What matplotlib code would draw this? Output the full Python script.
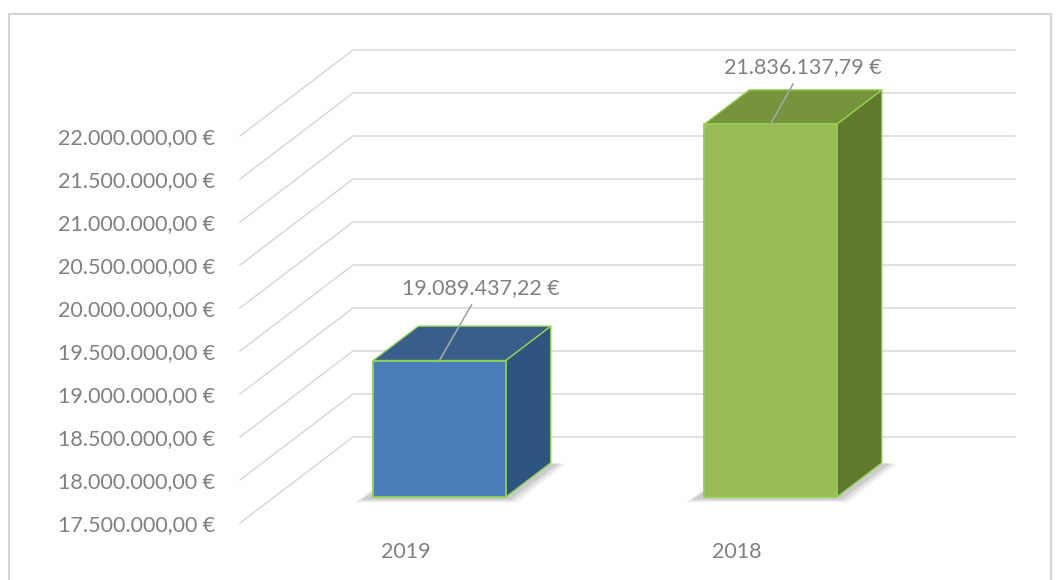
import matplotlib
matplotlib.use("Agg")
import matplotlib.pyplot as plt
from matplotlib.patches import Polygon, Rectangle
from matplotlib.ticker import FuncFormatter

# ---- data ----
categories = ["2019", "2018"]
values = [19089437.22, 21836137.79]
y_ticks = [17500000, 18000000, 18500000, 19000000, 19500000,
           20000000, 20500000, 21000000, 21500000, 22000000]
front_colors = ["#4a7ebb", "#9bbb59"]
side_colors = ["#2e5482", "#60792f"]
top_colors = ["#395e8c", "#77933c"]

# ---- layout (pixels of a 1059x580 canvas) ----
W, H = 1059, 580
PX_PER_CAT = 331.0          # pixels per category unit
PX_PER_VAL = 86.0 / 1e6     # pixels per euro
DEPTH_X = 113.0 / PX_PER_CAT  # oblique depth offset in category units
DEPTH_Y = 1.0e6               # oblique depth offset in value units
BAR_W = 0.4
BAR_FRONT = 0.3   # fraction of depth where bar front sits
BAR_DEPTH = 0.4
base = y_ticks[0]
FS = 15.5

plt.rcParams['font.family'] = ['Lato', 'DejaVu Sans']
TXT = "#808080"
GRID = "#d9d9d9"
EDGE = "#92d050"

fig = plt.figure(figsize=(W / 100, H / 100), dpi=100)
fig.patch.set_facecolor("white")

# chart border
fig.add_artist(Rectangle((9 / W, -0.05), (1051 - 9) / W, 1.05 - 14 / H,
                         transform=fig.transFigure, fill=False,
                         edgecolor="#d4d4d4", lw=1.5))

ax_l, ax_b, ax_w, ax_h = 240, 57, 775, 580 - 57 - 14
ax = fig.add_axes([ax_l / W, ax_b / H, ax_w / W, ax_h / H])
ax.set_xlim(-0.5, -0.5 + ax_w / PX_PER_CAT)
ax.set_ylim(base, base + ax_h / PX_PER_VAL)
for s in ax.spines.values():
    s.set_visible(False)
ax.patch.set_alpha(0)

def euro(v, pos=None):
    s = f"{v:,.2f}".replace(",", "X").replace(".", ",").replace("X", ".")
    return s + " €"

ax.set_yticks(y_ticks)
ax.yaxis.set_major_formatter(FuncFormatter(euro))
ax.set_xticks(range(len(categories)))
ax.set_xticklabels(categories)
ax.tick_params(axis="y", length=0, pad=18, labelsize=FS, labelcolor=TXT)
ax.tick_params(axis="x", length=0, pad=14, labelsize=FS, labelcolor=TXT)

# gridlines: diagonal on the left floor/side, horizontal on the back wall
x0 = -0.5
x1 = len(categories) - 0.5
for v in y_ticks:
    ax.plot([x0, x0 + DEPTH_X, x1 + DEPTH_X], [v, v + DEPTH_Y, v + DEPTH_Y],
            color=GRID, lw=1.1, clip_on=False, zorder=1,
            solid_joinstyle="miter")

# bars
for i, (cat, v) in enumerate(zip(categories, values)):
    dxf, dyf = BAR_FRONT * DEPTH_X, BAR_FRONT * DEPTH_Y
    dxd, dyd = BAR_DEPTH * DEPTH_X, BAR_DEPTH * DEPTH_Y
    left = i - BAR_W / 2 + dxf
    right = i + BAR_W / 2 + dxf
    bot = base + dyf
    top = v + dyf

    # soft shadow under the bar
    for k, a in enumerate([0.10, 0.14, 0.20]):
        g = 0.035 - 0.01 * k
        gy = 0.06e6 - 0.015e6 * k
        shadow = Polygon([(left - g - 0.02, bot - gy),
                          (right + g, bot - gy),
                          (right + dxd + g + 0.01, bot + dyd - gy * 0.2),
                          (left + dxd - g, bot + dyd)],
                         closed=True, facecolor="#7f7f7f", edgecolor="none",
                         alpha=a, zorder=2, clip_on=False)
        ax.add_patch(shadow)

    ax.bar(i + dxf, v - base, bottom=bot, width=BAR_W, color=front_colors[i],
           edgecolor=EDGE, linewidth=1.3, zorder=5, clip_on=False)
    side = Polygon([(right, bot), (right + dxd, bot + dyd),
                    (right + dxd, top + dyd), (right, top)], closed=True,
                   facecolor=side_colors[i], edgecolor=EDGE, lw=1.0,
                   zorder=4, clip_on=False)
    topf = Polygon([(left, top), (left + dxd, top + dyd),
                    (right + dxd, top + dyd), (right, top)], closed=True,
                   facecolor=top_colors[i], edgecolor=EDGE, lw=1.0,
                   zorder=4, clip_on=False)
    ax.add_patch(side)
    ax.add_patch(topf)

# data labels with leader lines
label_offsets = [(30, 52), (23, 41)]  # points
for i, v in enumerate(values):
    xy = (i + BAR_FRONT * DEPTH_X, v + BAR_FRONT * DEPTH_Y)
    ax.annotate(euro(v), xy=xy, xytext=label_offsets[i],
                textcoords="offset points", ha="center", va="center",
                fontsize=FS, color=TXT, zorder=6,
                arrowprops=dict(arrowstyle="-", color="#a6a6a6", lw=1.2,
                                shrinkA=3, shrinkB=0))

fig.savefig("out.png", dpi=100, facecolor="white")
